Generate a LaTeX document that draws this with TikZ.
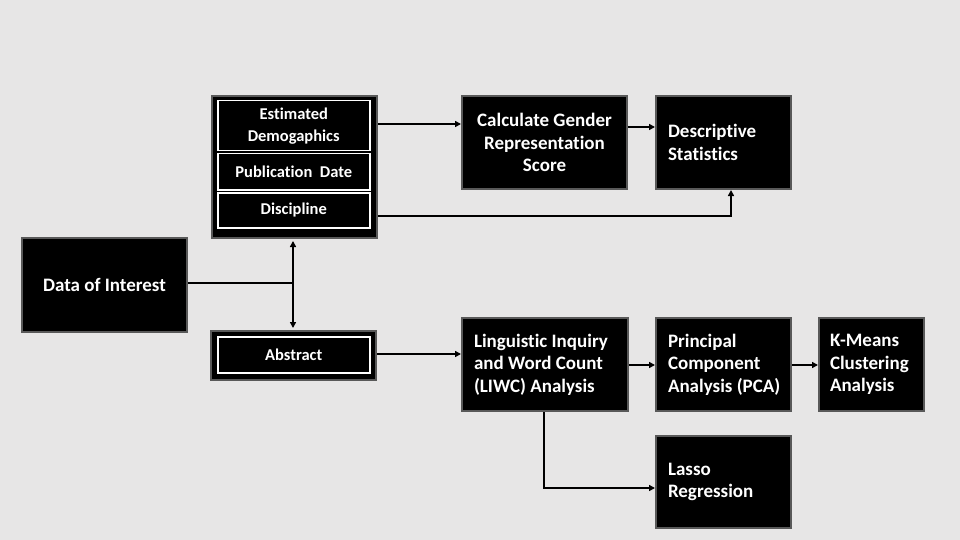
\documentclass[tikz,border=0pt]{standalone}
\usepackage{fontspec}
\setmainfont{Carlito}[Ligatures=NoCommon]
\usetikzlibrary{arrows.meta}
\definecolor{bg}{HTML}{E7E6E6}
\definecolor{bord}{HTML}{595959}
\begin{document}
\begin{tikzpicture}[x=1pt,y=-1pt,
  box/.style={draw=bord, line width=2pt, fill=black, text=white, inner sep=0pt, anchor=north west,
    font=\bfseries\fontsize{19}{22.5}\selectfont},
  inbox/.style={draw=white, line width=1.5pt, fill=black, text=white, inner sep=0pt, anchor=north west,
    font=\bfseries\fontsize{16.5}{22}\selectfont, align=center},
  conn/.style={line width=1.5pt},
  arr/.style={conn, -{Triangle[length=6pt,width=6pt]}},
  dbl/.style={conn, {Triangle[length=6pt,width=6pt]}-{Triangle[length=6pt,width=6pt]}}]
\fill[bg] (0,0) rectangle (960,540);
\useasboundingbox (0,0) rectangle (960,540);
% boxes
\node[box, minimum width=165pt, minimum height=94pt, align=center] (data) at (21,237) {Data of Interest};
\node[box, minimum width=165pt, minimum height=142pt] (cont) at (211,95) {};
\node[inbox, minimum width=152pt, minimum height=50pt] (est) at (217,100) {Estimated\\Demogaphics};
\node[inbox, minimum width=152pt, minimum height=36pt] (pub) at (217,153) {Publication~~Date};
\node[inbox, minimum width=152pt, minimum height=35pt] (disc) at (217,192) {Discipline};
\node[box, minimum width=165pt, minimum height=49pt] (abscont) at (210,330) {};
\node[inbox, minimum width=152pt, minimum height=36pt] (abs) at (217,336) {Abstract};
\node[box, minimum width=165pt, minimum height=93pt, align=center] (calc) at (461,95) {Calculate Gender\\Representation\\Score};
\node[box, minimum width=135pt, minimum height=93pt, text width=111pt, align=flush left] (desc) at (655,95) {Descriptive\\Statistics};
\node[box, minimum width=166pt, minimum height=93pt, text width=142pt, align=flush left] (liwc) at (461,317) {Linguistic~Inquiry\\and~Word~Count\\(LIWC)~Analysis};
\node[box, minimum width=135pt, minimum height=93pt, text width=111pt, align=flush left] (pca) at (655,317) {Principal\\Component\\\makebox[111pt][l]{Analysis~(PCA)}};
\node[box, minimum width=105pt, minimum height=93pt, text width=83pt, align=flush left] (km) at (818,317) {K-Means\\Clustering\\Analysis};
\node[box, minimum width=135pt, minimum height=92pt, text width=111pt, align=flush left] (lasso) at (655,435) {Lasso\\Regression};
% helper coordinates
\coordinate (y124) at (0,124);
\coordinate (y127) at (0,127);
\coordinate (y216) at (0,216);
\coordinate (y354) at (0,354);
\coordinate (y365) at (0,365);
\coordinate (y488) at (0,488);
\coordinate (x731) at (731,0);
\coordinate (x544) at (544,0);
\coordinate (j) at (293,283);
% connectors
\draw[arr] (cont.east |- y124) -- (calc.west |- y124);
\draw[arr] (calc.east |- y127) -- (desc.west |- y127);
\draw[arr] (cont.east |- y216) -| (x731 |- desc.south);
\draw[conn] (data.east |- j) -- (j);
\draw[dbl, shorten <=2pt, shorten >=2pt] (j |- cont.south) -- (j |- abscont.north);
\draw[arr] (abscont.east |- y354) -- (liwc.west |- y354);
\draw[arr] (liwc.east |- y365) -- (pca.west |- y365);
\draw[arr] (pca.east |- y365) -- (km.west |- y365);
\draw[arr] (x544 |- liwc.south) |- (lasso.west |- y488);
\end{tikzpicture}
\end{document}
